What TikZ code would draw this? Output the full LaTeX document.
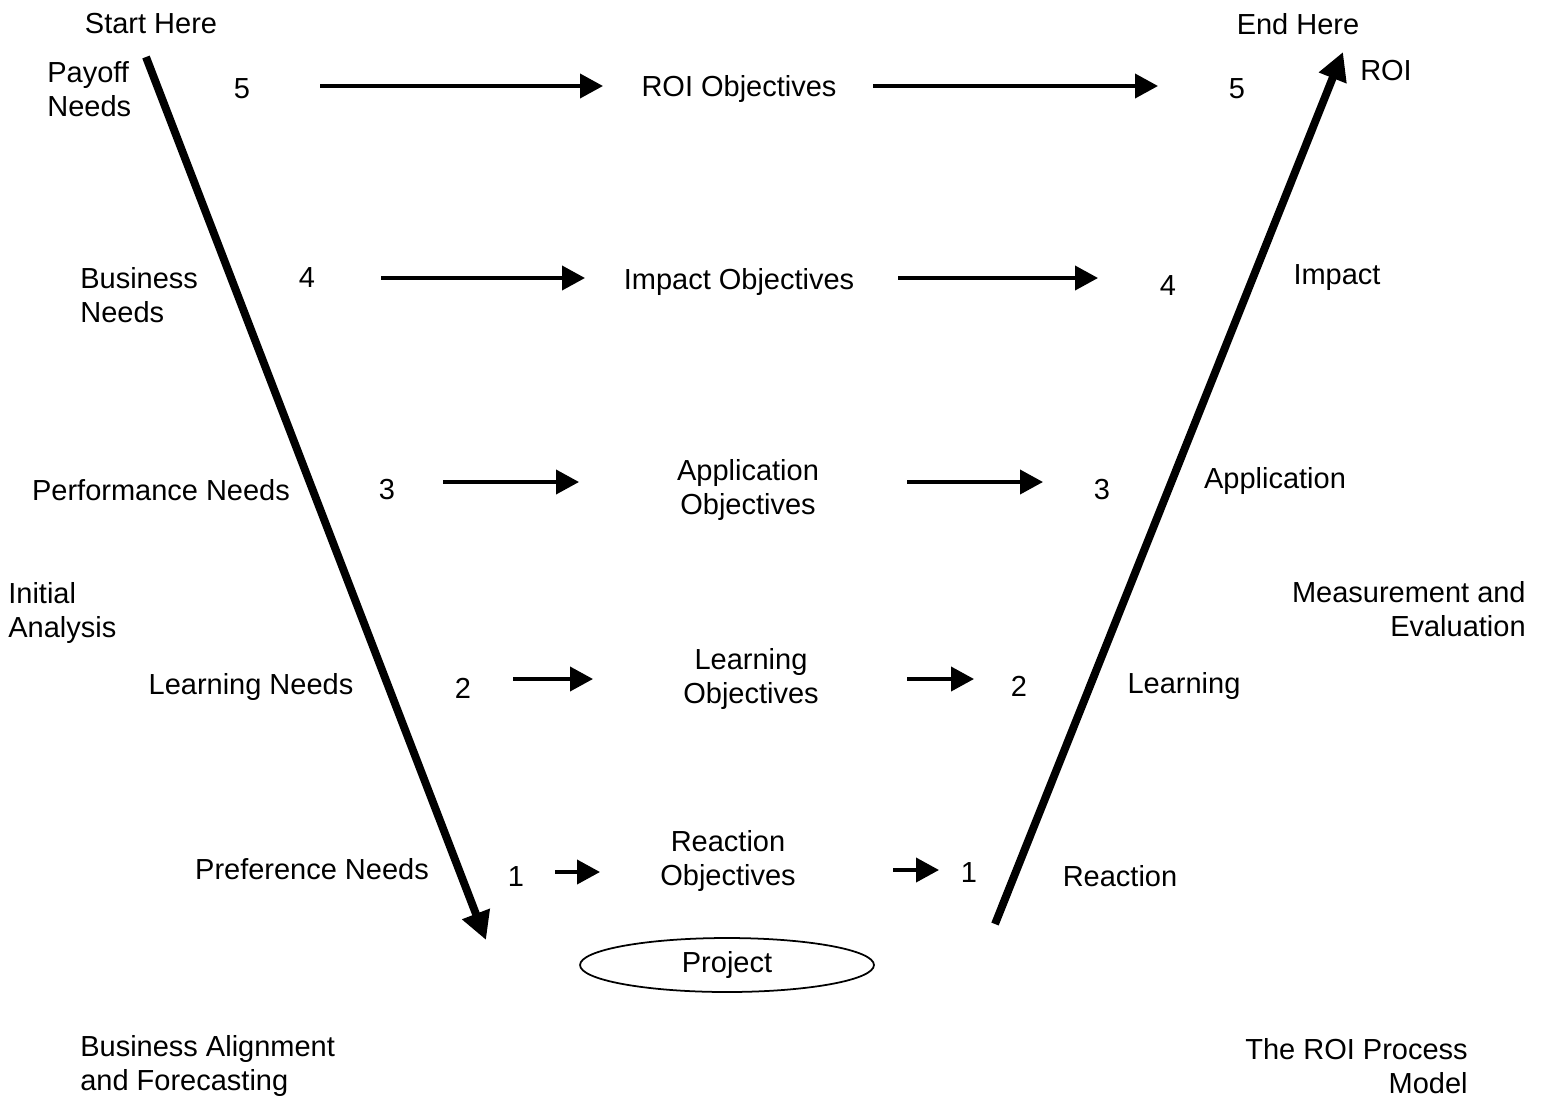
\documentclass[tikz,border=0pt]{standalone}
\usepackage{fontspec}
\setmainfont{Liberation Sans}
\usetikzlibrary{shapes.geometric, arrows.meta}

\begin{document}
\begin{tikzpicture}[
        x=0.02cm, y=-0.02cm,
        font=\fontsize{16.5}{19.5}\selectfont,
        every node/.style={inner sep=0pt},
        label/.style={align=center},
        lefttext/.style={align=left, anchor=west},
        righttext/.style={align=right, anchor=east},
        level/.style={-{Triangle[length=0.46cm, width=0.48cm]}, line width=2.2pt},
        vline/.style={-{Triangle[length=0.56cm, width=0.56cm]}, line width=4.5pt},
        project/.style={draw, ellipse, line width=1pt, minimum width=5.88cm, minimum height=1.08cm},
    ]
    \useasboundingbox (0,0) rectangle (1544,1096);

    % Left side: needs
    \node[label] (start) at (151,24) {Start Here};
    \node[lefttext] (payoff) at (47,89) {Payoff\\Needs};
    \node[lefttext] (business) at (80,295) {Business\\Needs};
    \node[label] (performance) at (161,490) {Performance Needs};
    \node[lefttext] (initial) at (8,613) {Initial\\Analysis};
    \node[label] (learnneeds) at (251,687) {Learning Needs};
    \node[label] (preference) at (312,869) {Preference Needs};
    \node[lefttext] (alignment) at (80,1066) {Business Alignment\\and Forecasting};

    % Left numbers
    \node (l5) at (242,89) {5};
    \node (l4) at (307,278) {4};
    \node (l3) at (387,490) {3};
    \node (l2) at (463,688) {2};
    \node (l1) at (516,877) {1};

    % Objectives
    \node[label] (roiobj) at (739,89) {ROI Objectives};
    \node[label] (impactobj) at (739,282) {Impact Objectives};
    \node[label] (appobj) at (748,490) {Application\\Objectives};
    \node[label] (learnobj) at (751,679) {Learning\\Objectives};
    \node[label] (reactobj) at (728,861) {Reaction\\Objectives};
    \node[project] (project) at (727,965) {Project};

    % Right numbers
    \node (r5) at (1237,89) {5};
    \node (r4) at (1168,286) {4};
    \node (r3) at (1102,490) {3};
    \node (r2) at (1019,686) {2};
    \node (r1) at (969,873) {1};

    % Right side: evaluation levels
    \node[label] (end) at (1298,24) {End Here};
    \node[label] (roi) at (1386,71) {ROI};
    \node[label] (impact) at (1337,278) {Impact};
    \node[label] (application) at (1275,481) {Application};
    \node[righttext] (measure) at (1526,609) {Measurement and\\Evaluation};
    \node[label] (learning) at (1184,686) {Learning};
    \node[label] (reaction) at (1120,876) {Reaction};
    \node[righttext] (model) at (1468,1066) {The ROI Process\\Model};

    % Arrow end points
    \coordinate (a5) at (320,86);   \coordinate (b5) at (603,86);
    \coordinate (c5) at (873,86);   \coordinate (d5) at (1158,86);
    \coordinate (a4) at (381,278);  \coordinate (b4) at (585,278);
    \coordinate (c4) at (898,278);  \coordinate (d4) at (1098,278);
    \coordinate (a3) at (443,482);  \coordinate (b3) at (579,482);
    \coordinate (c3) at (907,482);  \coordinate (d3) at (1043,482);
    \coordinate (a2) at (513,679);  \coordinate (b2) at (593,679);
    \coordinate (c2) at (907,679);  \coordinate (d2) at (974,679);
    \coordinate (a1) at (555,872);  \coordinate (b1) at (600,872);
    \coordinate (c1) at (893,870);  \coordinate (d1) at (939,870);
    \coordinate (downtop) at (146,57);  \coordinate (downend) at (486,940);
    \coordinate (upstart) at (995,924); \coordinate (uptop) at (1343,52);

    % Arrows
    \foreach \i in {1,...,5} {
        \draw[level] (a\i) -- (b\i);
        \draw[level] (c\i) -- (d\i);
    }
    \draw[vline] (downtop) -- (downend);
    \draw[vline] (upstart) -- (uptop);

\end{tikzpicture}
\end{document}
